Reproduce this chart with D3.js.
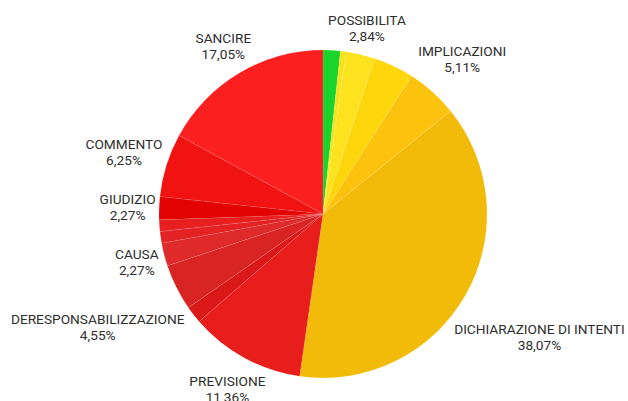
<!DOCTYPE html>
<html>
<head>
<meta charset="utf-8">
<script src="https://cdn.jsdelivr.net/npm/d3@7"></script>
<style>
  body { margin: 0; background: #fff; }
  text { font-family: Roboto, "Noto Sans", sans-serif; fill: #2e2e2e; }
</style>
</head>
<body>
<svg id="chart" width="628" height="401"></svg>
<script>
// slices clockwise from 12 o'clock; empty label = unlabelled slice
const labels = ["", "", "POSSIBILITA", "", "IMPLICAZIONI", "DICHIARAZIONE DI INTENTI",
  "PREVISIONE", "", "DERESPONSABILIZZAZIONE", "CAUSA", "", "", "GIUDIZIO", "COMMENTO", "SANCIRE"];
const values = [1.70, 0.57, 2.84, 3.98, 5.11, 38.07, 11.36, 1.70, 4.55, 2.27, 1.14, 1.14, 2.27, 6.25, 17.05];
const colors = ["#1ad42c", "#f6e31c", "#fde21e", "#fdd60c", "#fcc30e", "#f2bb0a",
  "#e81e1c", "#da1818", "#d92424", "#de2a2a", "#e32323", "#e81f1f", "#e20202", "#f11212", "#fb1f1f"];

const svg = d3.select("#chart"),
  cx = 323, cy = 214, radius = 164;

const data = labels.map((l, i) => ({label: l, value: values[i], color: colors[i]}));

const locale = d3.formatLocale({decimal: ",", thousands: ".", grouping: [3], currency: ["", "€"]});
const fmt = locale.format(".2f");

const pie = d3.pie().value(d => d.value).sort(null);
const arc = d3.arc().innerRadius(0).outerRadius(radius);

const g = svg.append("g").attr("transform", "translate(" + cx + "," + cy + ")");

g.selectAll("path").data(pie(data))
  .enter().append("path")
  .attr("d", arc)
  .attr("fill", d => d.data.color)
  .attr("stroke", "rgba(255,255,255,0.15)")
  .attr("stroke-width", 0.6);

// labels sit outside the pie along the slice's mid angle
const lab = g.selectAll("g.lab").data(pie(data).filter(d => d.data.label !== ""))
  .enter().append("g").attr("class", "lab");

lab.append("text")
  .attr("text-anchor", "middle")
  .style("font-size", "13.7px")
  .text(d => d.data.label);
lab.append("text")
  .attr("text-anchor", "middle")
  .attr("y", 16)
  .style("font-size", "13.7px")
  .text(d => fmt(d.data.value) + "%");

lab.each(function(d) {
  const bb = this.getBBox();
  const a = (d.startAngle + d.endAngle) / 2;
  const s = Math.sin(a), c = Math.cos(a);
  const dist = radius + 3 + Math.abs(s) * bb.width / 2 + Math.abs(c) * bb.height / 2;
  const x = dist * s - (bb.x + bb.width / 2);
  const y = -dist * c - (bb.y + bb.height / 2);
  d3.select(this).attr("transform", "translate(" + x + "," + y + ")");
});
</script>
</body>
</html>
